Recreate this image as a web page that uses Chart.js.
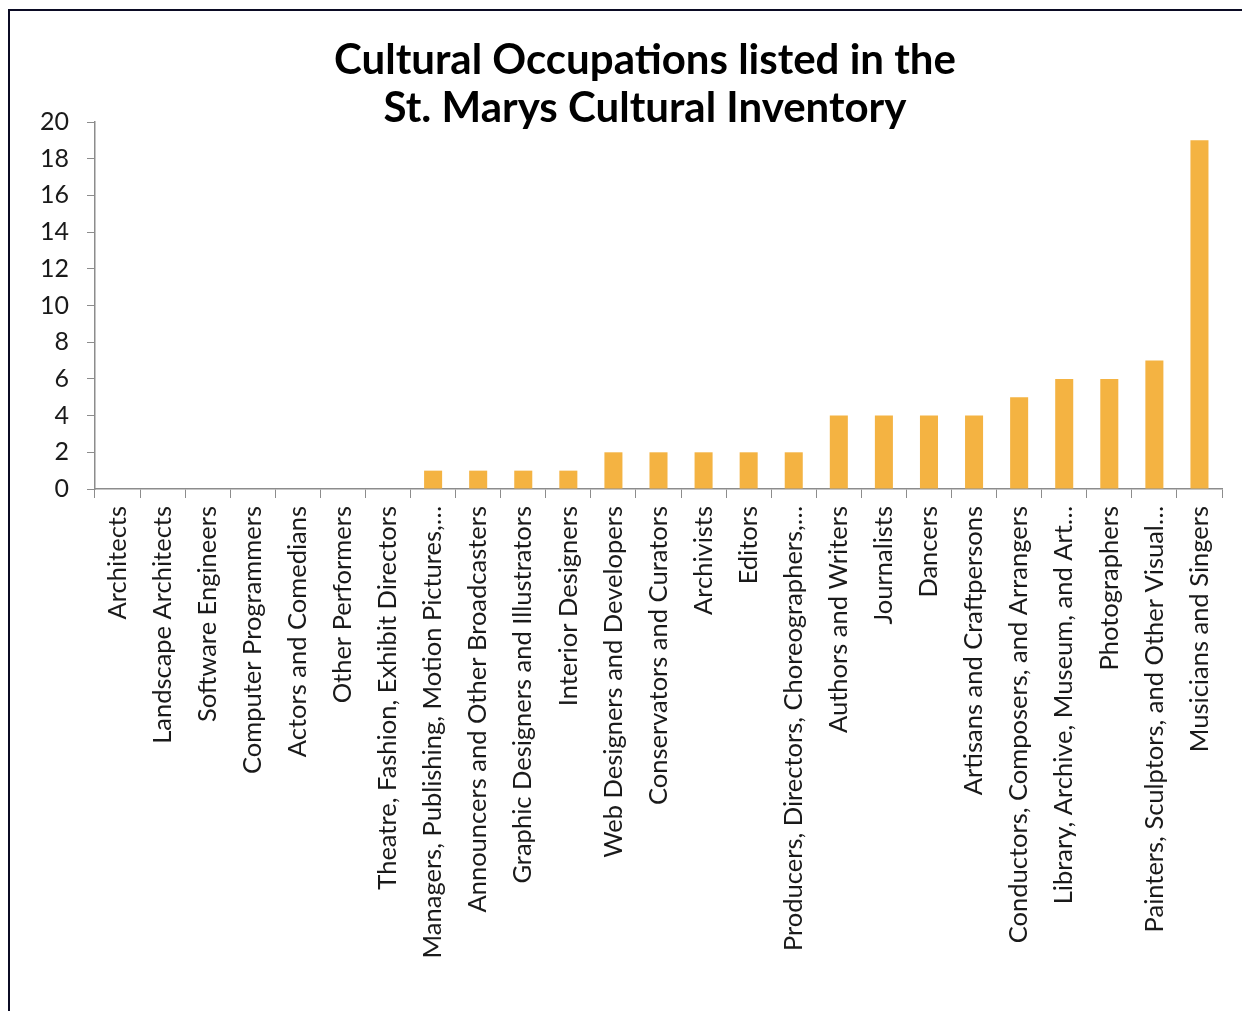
<!DOCTYPE html>
<html>
<head>
<meta charset="utf-8">
<script src="https://cdn.jsdelivr.net/npm/chart.js@4.4.0/dist/chart.umd.min.js"></script>
<style>
  html, body { margin: 0; padding: 0; background: #fff; overflow: hidden; }
  #wrap { position: relative; width: 1242px; height: 1011px; }
  #frame { position: absolute; left: 8px; top: 9px; width: 1300px; height: 1100px; border: 2px solid #0b0b24; box-sizing: border-box; pointer-events: none; }
  #title { position: absolute; left: 295px; width: 700px; top: 34px; text-align: center; font: bold 42px Lato, sans-serif; line-height: 48px; color: #000; }
  #myChart { position: absolute; left: 0; top: 0; }
</style>
</head>
<body>
<div id="wrap">
  <canvas id="myChart" width="1242" height="1011"></canvas>
  <div id="frame"></div>
  <div id="title">Cultural Occupations listed in the<br>St. Marys Cultural Inventory</div>
</div>
<script>
const categories = [
    'Architects', 'Landscape Architects', 'Software Engineers', 'Computer Programmers',
    'Actors and Comedians', 'Other Performers', 'Theatre, Fashion, Exhibit Directors',
    'Managers, Publishing, Motion Pictures,…', 'Announcers and Other Broadcasters',
    'Graphic Designers and Illustrators', 'Interior Designers', 'Web Designers and Developers',
    'Conservators and Curators', 'Archivists', 'Editors', 'Producers, Directors, Choreographers,…',
    'Authors and Writers', 'Journalists', 'Dancers', 'Artisans and Craftpersons',
    'Conductors, Composers, and Arrangers', 'Library, Archive, Museum, and Art…',
    'Photographers', 'Painters, Sculptors, and Other Visual…', 'Musicians and Singers'
];
const counts = [0, 0, 0, 0, 0, 0, 0, 1, 1, 1, 1, 2, 2, 2, 2, 2, 4, 4, 4, 4, 5, 6, 6, 7, 19];
const yTicks = [0, 2, 4, 6, 8, 10, 12, 14, 16, 18, 20];

const ctx = document.getElementById('myChart').getContext('2d');
var myChart = new Chart(ctx, {
    type: 'bar',
    data: {
        labels: categories,
        datasets: [{
            label: 'Count',
            data: counts,
            backgroundColor: '#f4b342',
            categoryPercentage: 0.8,
            barPercentage: 0.5,
        }]
    },
    options: {
        responsive: false,
        animation: false,
        layout: { padding: { left: 20, right: 20, top: 122, bottom: 0 } },
        plugins: {
            legend: { display: false },
            title: { display: false },
            tooltip: { enabled: false }
        },
        scales: {
            x: {
                grid: { drawOnChartArea: false, drawTicks: true, tickLength: 9, color: '#8c8c8c', offset: true },
                border: { color: '#8c8c8c', width: 1.5 },
                ticks: {
                    autoSkip: false, maxRotation: 90, minRotation: 90, padding: 8,
                    color: '#1a1a1a', font: { family: 'Lato', size: 25.5 }
                },
                afterFit: (scale) => { scale.height = 522; }
            },
            y: {
                min: 0, max: 20,
                afterBuildTicks: (scale) => { scale.ticks = yTicks.map(v => ({ value: v })); },
                grid: { drawOnChartArea: false, drawTicks: true, tickLength: 8, color: '#8c8c8c' },
                border: { color: '#8c8c8c', width: 1.5 },
                ticks: { padding: 18, color: '#1a1a1a', font: { family: 'Lato', size: 25 } },
                afterFit: (scale) => { scale.width = 75; }
            }
        }
    }
});
</script>
</body>
</html>
